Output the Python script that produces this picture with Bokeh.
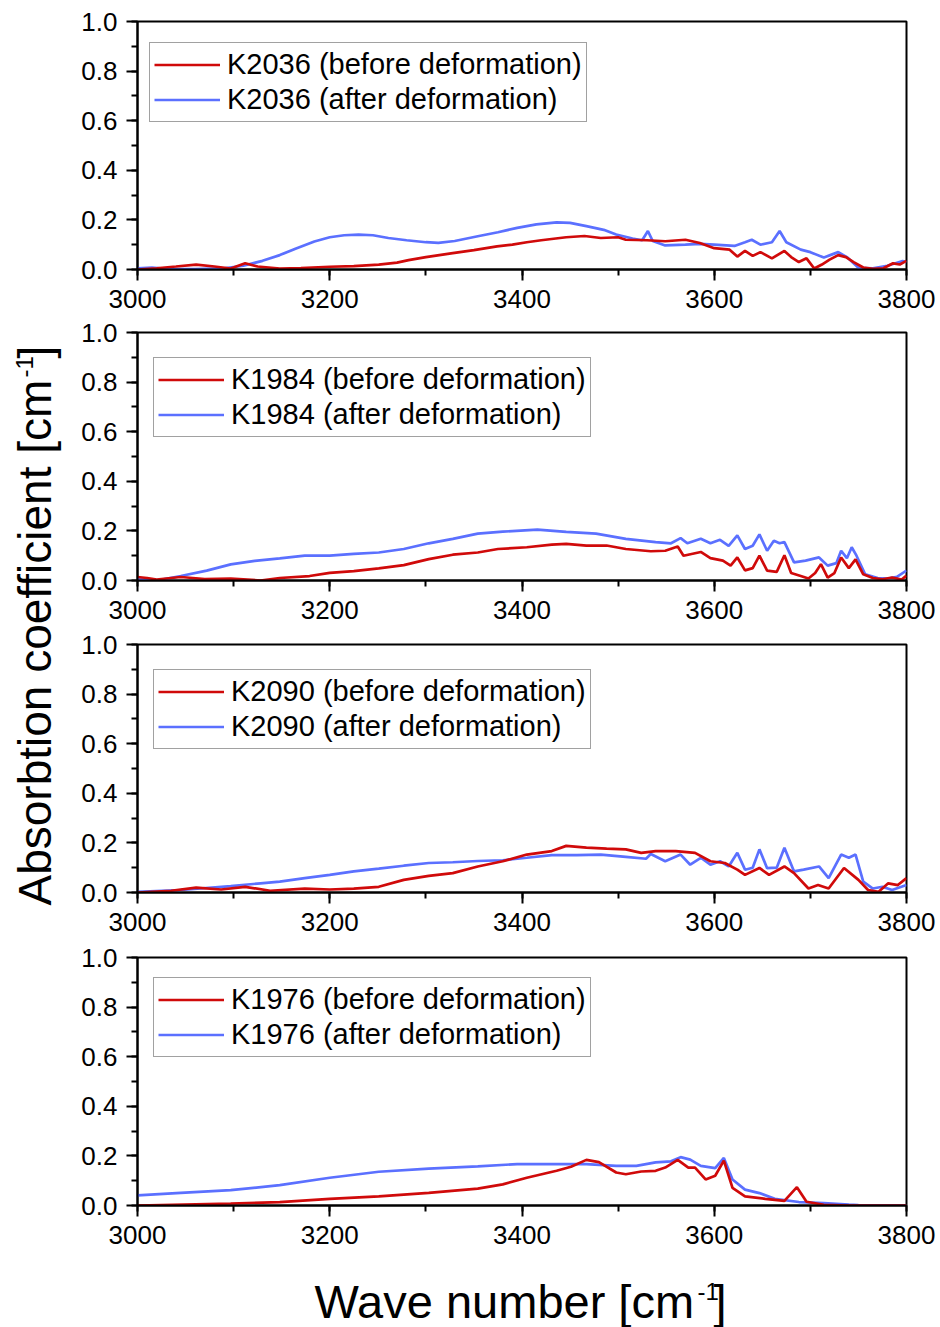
import math
from bokeh.plotting import figure
from bokeh.layouts import row, column
from bokeh.models import (Range1d, SingleIntervalTicker, NumeralTickFormatter,
                          Legend, LegendItem, Label)
from bokeh.embed import file_html
from bokeh.resources import INLINE

# ---------------- data ----------------
samples = ["K2036", "K1984", "K2090", "K1976"]

k2036_before_x = [3000, 3020, 3040, 3061, 3080, 3097, 3112, 3125, 3148, 3170, 3200, 3225, 3251, 3270, 3282, 3300,
                  3328, 3350, 3374, 3390, 3405, 3420, 3446, 3465, 3482, 3500, 3508, 3530, 3549, 3570, 3585, 3600,
                  3616, 3624, 3632, 3640, 3648, 3660, 3673, 3680, 3688, 3696, 3704, 3712, 3720, 3729, 3737, 3745,
                  3755, 3765, 3776, 3786, 3793, 3800]
k2036_before_y = [0.0, 0.005, 0.012, 0.02, 0.012, 0.004, 0.025, 0.012, 0.004, 0.006, 0.011, 0.014, 0.02, 0.028,
                  0.038, 0.05, 0.066, 0.078, 0.093, 0.1, 0.11, 0.118, 0.13, 0.135, 0.127, 0.13, 0.12, 0.118, 0.114,
                  0.12, 0.107, 0.086, 0.08, 0.052, 0.075, 0.055, 0.07, 0.045, 0.075, 0.05, 0.03, 0.045, 0.004, 0.02,
                  0.04, 0.058, 0.05, 0.03, 0.008, 0.003, 0.005, 0.025, 0.02, 0.035]
k2036_after_x = [3000, 3015, 3030, 3060, 3090, 3110, 3130, 3148, 3165, 3184, 3200, 3215, 3230, 3245, 3261, 3280,
                 3300, 3313, 3330, 3354, 3375, 3395, 3415, 3436, 3450, 3467, 3485, 3498, 3515, 3525, 3531, 3536,
                 3549, 3570, 3585, 3600, 3621, 3632, 3639, 3648, 3660, 3668, 3675, 3690, 3700, 3714, 3722, 3729,
                 3738, 3750, 3765, 3780, 3796, 3800]
k2036_after_y = [0.005, 0.008, 0.003, 0.002, 0.005, 0.015, 0.035, 0.058, 0.085, 0.113, 0.13, 0.138, 0.141, 0.138,
                 0.127, 0.118, 0.11, 0.107, 0.115, 0.134, 0.15, 0.168, 0.182, 0.19, 0.188, 0.175, 0.16, 0.141, 0.125,
                 0.118, 0.155, 0.115, 0.097, 0.1, 0.103, 0.1, 0.095, 0.11, 0.12, 0.1, 0.11, 0.155, 0.11, 0.08, 0.07,
                 0.048, 0.06, 0.07, 0.05, 0.007, 0.005, 0.015, 0.034, 0.03]

k1984_before_x = [3000, 3010, 3020, 3045, 3070, 3097, 3128, 3148, 3179, 3200, 3225, 3251, 3277, 3303, 3328, 3354,
                  3375, 3405, 3431, 3446, 3467, 3488, 3508, 3534, 3549, 3562, 3568, 3586, 3596, 3609, 3617, 3624,
                  3632, 3640, 3647, 3655, 3665, 3673, 3680, 3690, 3698, 3705, 3711, 3718, 3725, 3732, 3740, 3747,
                  3755, 3765, 3775, 3785, 3795, 3800]
k1984_before_y = [0.014, 0.01, 0.004, 0.014, 0.006, 0.008, 0.0, 0.01, 0.018, 0.031, 0.038, 0.049, 0.062, 0.086,
                  0.104, 0.113, 0.127, 0.134, 0.145, 0.148, 0.141, 0.141, 0.127, 0.118, 0.12, 0.137, 0.1, 0.115, 0.09,
                  0.08, 0.06, 0.093, 0.041, 0.05, 0.1, 0.04, 0.035, 0.102, 0.03, 0.018, 0.008, 0.03, 0.066, 0.012,
                  0.03, 0.093, 0.05, 0.085, 0.025, 0.01, 0.005, 0.012, 0.004, 0.02]
k1984_after_x = [3000, 3020, 3045, 3072, 3097, 3122, 3148, 3174, 3200, 3225, 3251, 3277, 3303, 3328, 3354, 3380,
                 3416, 3446, 3477, 3508, 3539, 3555, 3565, 3572, 3586, 3596, 3606, 3615, 3624, 3632, 3640, 3647,
                 3655, 3662, 3668, 3673, 3683, 3695, 3709, 3718, 3727, 3732, 3738, 3743, 3748, 3757, 3770, 3781,
                 3790, 3800]
k1984_after_y = [0.008, 0.0, 0.018, 0.04, 0.065, 0.079, 0.089, 0.1, 0.1, 0.107, 0.113, 0.127, 0.15, 0.168, 0.189,
                 0.197, 0.205, 0.196, 0.189, 0.168, 0.155, 0.15, 0.171, 0.15, 0.168, 0.15, 0.164, 0.14, 0.182, 0.127,
                 0.14, 0.186, 0.12, 0.16, 0.15, 0.155, 0.073, 0.08, 0.093, 0.06, 0.07, 0.12, 0.09, 0.134, 0.1, 0.025,
                 0.01, 0.008, 0.015, 0.04]

k2090_before_x = [3000, 3035, 3061, 3087, 3112, 3138, 3174, 3200, 3225, 3251, 3277, 3303, 3328, 3354, 3380, 3405,
                  3431, 3446, 3467, 3488, 3508, 3524, 3539, 3560, 3580, 3596, 3611, 3624, 3632, 3647, 3657, 3673,
                  3683, 3698, 3708, 3719, 3735, 3750, 3760, 3771, 3781, 3791, 3800]
k2090_before_y = [0.0, 0.007, 0.02, 0.012, 0.023, 0.007, 0.016, 0.012, 0.016, 0.023, 0.051, 0.067, 0.078, 0.105,
                  0.126, 0.153, 0.167, 0.188, 0.181, 0.177, 0.174, 0.16, 0.167, 0.167, 0.16, 0.126, 0.119, 0.092,
                  0.071, 0.099, 0.071, 0.105, 0.078, 0.016, 0.03, 0.016, 0.099, 0.051, 0.01, 0.003, 0.037, 0.03,
                  0.058]
k2090_after_x = [3000, 3045, 3097, 3128, 3148, 3174, 3200, 3225, 3251, 3277, 3303, 3328, 3354, 3380, 3405, 3431,
                 3457, 3482, 3508, 3529, 3534, 3549, 3565, 3575, 3586, 3596, 3606, 3615, 3624, 3632, 3640, 3647,
                 3655, 3665, 3673, 3683, 3693, 3709, 3719, 3732, 3740, 3747, 3755, 3765, 3775, 3785, 3800]
k2090_after_y = [0.003, 0.01, 0.026, 0.037, 0.044, 0.058, 0.071, 0.085, 0.096, 0.108, 0.119, 0.122, 0.127, 0.13,
                 0.14, 0.151, 0.151, 0.153, 0.144, 0.136, 0.155, 0.126, 0.153, 0.112, 0.14, 0.112, 0.126, 0.105,
                 0.16, 0.092, 0.1, 0.174, 0.098, 0.1, 0.18, 0.085, 0.092, 0.105, 0.058, 0.153, 0.14, 0.153, 0.044,
                 0.016, 0.023, 0.01, 0.03]

k1976_before_x = [3000, 3097, 3148, 3200, 3251, 3303, 3354, 3380, 3405, 3436, 3451, 3467, 3480, 3498, 3508, 3524,
                  3539, 3549, 3562, 3573, 3580, 3591, 3601, 3610, 3619, 3632, 3653, 3673, 3686, 3696, 3714, 3740,
                  3800]
k1976_before_y = [0.0, 0.008, 0.014, 0.027, 0.037, 0.051, 0.068, 0.085, 0.112, 0.14, 0.156, 0.184, 0.175, 0.133,
                  0.126, 0.137, 0.14, 0.153, 0.184, 0.153, 0.153, 0.105, 0.12, 0.181, 0.071, 0.037, 0.027, 0.019,
                  0.074, 0.015, 0.003, 0.0, 0.0]
k1976_after_x = [3000, 3045, 3097, 3148, 3200, 3251, 3303, 3354, 3395, 3431, 3467, 3498, 3519, 3539, 3555, 3565,
                 3575, 3586, 3601, 3610, 3619, 3632, 3647, 3663, 3688, 3714, 3740, 3750, 3800]
k1976_after_y = [0.041, 0.051, 0.062, 0.082, 0.112, 0.136, 0.149, 0.158, 0.167, 0.167, 0.167, 0.16, 0.16, 0.174,
                 0.178, 0.195, 0.185, 0.16, 0.151, 0.192, 0.105, 0.064, 0.05, 0.027, 0.014, 0.01, 0.004, 0.002, 0.0]

series = [
    (k2036_before_x, k2036_before_y, k2036_after_x, k2036_after_y),
    (k1984_before_x, k1984_before_y, k1984_after_x, k1984_after_y),
    (k2090_before_x, k2090_before_y, k2090_after_x, k2090_after_y),
    (k1976_before_x, k1976_before_y, k1976_after_x, k1976_after_y),
]

# ---------------- styling ----------------
RED = "#d00a0a"
BLUE = "#5b70ff"
FONT = "Liberation Sans"
FIG_W = 870
LEFT_W = 70
BL, BR = 67, 34          # left / right borders of the panel figures
tops = [21, 13, 14, 15]
legend_locs = [(12, 147), (16, 143), (16, 143), (16, 148)]


def make_panel(i):
    bx, by, ax, ay = series[i]
    top = tops[i]
    p = figure(width=FIG_W, height=top + 248 + 50, output_backend="svg", toolbar_location=None,
               x_range=Range1d(3000, 3800), y_range=Range1d(0, 1),
               min_border_left=BL, min_border_right=BR, min_border_top=top, min_border_bottom=50)
    p.grid.visible = False
    p.outline_line_color = "black"
    p.outline_line_width = 2
    p.background_fill_color = "white"
    p.border_fill_color = "white"

    p.xaxis.ticker = SingleIntervalTicker(interval=200, num_minor_ticks=2)
    p.yaxis.ticker = SingleIntervalTicker(interval=0.2, num_minor_ticks=2)
    p.yaxis.formatter = NumeralTickFormatter(format="0.0")
    p.xaxis.formatter = NumeralTickFormatter(format="0")
    for ax_ in (p.xaxis, p.yaxis):
        ax_.axis_line_width = 2
        ax_.axis_line_color = "black"
        ax_.major_tick_line_width = 2
        ax_.minor_tick_line_width = 2
        ax_.major_tick_in = 0
        ax_.minor_tick_in = 0
        ax_.major_tick_out = 11
        ax_.minor_tick_out = 6
        ax_.major_label_text_font = FONT
        ax_.major_label_text_font_size = "26px"
        ax_.major_label_text_color = "black"
    p.yaxis.major_label_standoff = 9
    p.xaxis.major_label_standoff = 9

    r_after = p.line(ax, ay, line_color=BLUE, line_width=2.7)
    r_before = p.line(bx, by, line_color=RED, line_width=2.7)

    name = samples[i]
    legend = Legend(items=[LegendItem(label=f"{name} (before deformation)", renderers=[r_before]),
                           LegendItem(label=f"{name} (after deformation)", renderers=[r_after])],
                    location=legend_locs[i])
    legend.label_text_font = FONT
    legend.label_text_font_size = "29px"
    legend.label_text_color = "black"
    legend.glyph_width = 66
    legend.glyph_height = 35
    legend.label_height = 35
    legend.label_standoff = 7
    legend.padding = 4
    legend.spacing = 0
    legend.margin = 0
    legend.border_line_color = "#444444"
    legend.border_line_width = 1
    legend.background_fill_alpha = 1.0
    p.add_layout(legend)
    return p


panels = [make_panel(i) for i in range(4)]

SUP_FS = 24
MID = 0.3465  # baseline -> middle offset as fraction of font size

# x-axis title figure: its frame is aligned with the panel frames (page x 137..906)
XFS = 47
XLAB_H = 1327 - sum(tops) - 4 * (248 + 50)
xlab = figure(width=FIG_W, height=XLAB_H, output_backend="svg", toolbar_location=None,
              x_range=Range1d(LEFT_W + BL, FIG_W + LEFT_W - BR), y_range=Range1d(1327, 1327 - XLAB_H),
              x_axis_location=None, y_axis_location=None,
              min_border_left=BL, min_border_right=BR, min_border_top=0, min_border_bottom=0)
xlab.grid.visible = False
xlab.outline_line_color = None
# y range is inverted so that data y == page y (pixels from top)
xlab.add_layout(Label(x=314, y=1317 - MID * XFS, text="Wave number [cm", text_font=FONT, text_color="black",
                      text_font_size=f"{XFS}px", text_align="left", text_baseline="middle"))
xlab.add_layout(Label(x=697, y=1299 - MID * SUP_FS, text="-1", text_font=FONT, text_color="black",
                      text_font_size=f"{SUP_FS}px", text_align="left", text_baseline="middle"))
xlab.add_layout(Label(x=713, y=1317 - MID * XFS, text="]", text_font=FONT, text_color="black",
                      text_font_size=f"{XFS}px", text_align="left", text_baseline="middle"))

# y-axis title figure
YFS = 46
ylab = figure(width=LEFT_W, height=1327, output_backend="svg", toolbar_location=None,
              x_range=Range1d(0, LEFT_W), y_range=Range1d(1327, 0),
              x_axis_location=None, y_axis_location=None, min_border=0)
ylab.grid.visible = False
ylab.outline_line_color = None
ylab.add_layout(Label(x=50 - MID * YFS, y=905, text="Absorbtion coefficient [cm", angle=math.pi / 2,
                      text_font=FONT, text_color="black", text_font_size=f"{YFS}px",
                      text_align="left", text_baseline="middle"))
ylab.add_layout(Label(x=32 - MID * SUP_FS, y=377, text="-1", angle=math.pi / 2, text_font=FONT,
                      text_color="black", text_font_size=f"{SUP_FS}px", text_align="left", text_baseline="middle"))
ylab.add_layout(Label(x=50 - MID * YFS, y=358, text="]", angle=math.pi / 2, text_font=FONT,
                      text_color="black", text_font_size=f"{YFS}px", text_align="left", text_baseline="middle"))

layout = row(ylab, column(*panels, xlab))

open("out.html", "w").write(file_html(layout, INLINE))
